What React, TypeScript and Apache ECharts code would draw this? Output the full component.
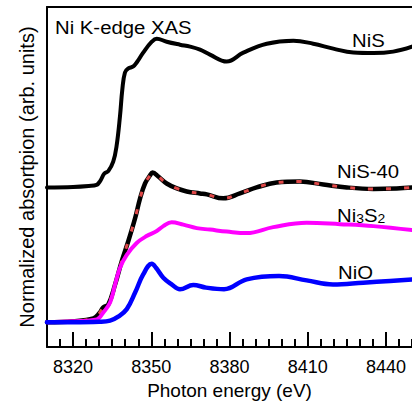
import React, { useEffect, useRef } from "react";
import * as echarts from "echarts";

// Photon energy grid (eV) and absorption (arb. units, vertically offset) for each sample
const nisEnergy = [8310, 8320, 8326, 8329, 8330.5, 8332, 8333.5, 8335.4, 8336.7, 8338, 8338.9, 8339.9, 8341.2, 8343.1, 8344.4, 8346.9, 8350.2, 8352.1, 8355.9, 8361, 8364.9, 8368.7, 8372.5, 8378.9, 8385.3, 8394.3, 8404.5, 8412.1, 8419.8, 8427.5, 8435.2, 8442.8, 8450];
const nisValues = [1.61, 1.615, 1.625, 1.635, 1.68, 1.75, 1.775, 1.87, 2.03, 2.33, 2.6, 2.77, 2.81, 2.83, 2.87, 2.97, 3.08, 3.11, 3.08, 3.05, 3.03, 3.0, 2.95, 2.88, 2.97, 3.06, 3.09, 3.06, 3.01, 2.97, 2.965, 2.98, 3.03];

const nis40Energy = [8310, 8320, 8327.8, 8330, 8331.6, 8333.5, 8336.1, 8338.7, 8341.2, 8343.8, 8345.7, 8347.6, 8349.5, 8350.5, 8352.7, 8355.9, 8359.8, 8363.6, 8368.7, 8371.3, 8377.6, 8384, 8390.4, 8398.1, 8407, 8416, 8425, 8435.2, 8444.1, 8450];
const nis40Values = [0.25, 0.26, 0.29, 0.34, 0.4, 0.43, 0.63, 0.87, 1.07, 1.3, 1.5, 1.65, 1.73, 1.76, 1.72, 1.65, 1.6, 1.57, 1.55, 1.54, 1.5, 1.55, 1.61, 1.66, 1.67, 1.64, 1.61, 1.595, 1.6, 1.61];

const ni3s2Energy = [8310, 8320, 8329.1, 8331.6, 8334.2, 8336.1, 8338, 8340.6, 8344.4, 8348.2, 8352.1, 8354.6, 8357.8, 8362.3, 8367.4, 8372.5, 8379, 8386.6, 8396.8, 8409.6, 8422.4, 8435.2, 8450];
const ni3s2Values = [0.25, 0.26, 0.28, 0.35, 0.45, 0.63, 0.8, 0.93, 1.05, 1.12, 1.17, 1.22, 1.26, 1.235, 1.2, 1.185, 1.165, 1.15, 1.21, 1.255, 1.24, 1.22, 1.18];

const nioEnergy = [8310, 8320, 8330, 8334.2, 8337.3, 8340.6, 8343.8, 8346.9, 8350.2, 8351.8, 8354.6, 8357.8, 8361, 8366.1, 8371, 8377.9, 8386.6, 8399, 8409.6, 8419.7, 8431.3, 8441.6, 8450];
const nioValues = [0.25, 0.25, 0.255, 0.267, 0.307, 0.383, 0.55, 0.733, 0.84, 0.8, 0.7, 0.633, 0.583, 0.627, 0.6, 0.583, 0.683, 0.717, 0.673, 0.632, 0.65, 0.667, 0.683];

const majorTicks = [8320, 8350, 8380, 8410, 8440];
const energyMin = 8310;
const energyMax = 8450;

const FONT = "'Liberation Sans', Arial, Helvetica, sans-serif";

const pairs = (xs: number[], ys: number[]) => xs.map((x, i) => [x, ys[i]]);

export default function App() {
  const ref = useRef<HTMLDivElement>(null);

  useEffect(() => {
    if (!ref.current) return;
    const chart = echarts.init(ref.current, null, { renderer: "svg" });

    const lineSeries = (name: string, data: number[][], color: string, width: number, extra: any = {}) => ({
      name,
      type: "line",
      data,
      showSymbol: false,
      smooth: 0.4,
      lineStyle: { color, width, cap: "round", join: "round", ...extra },
      emphasis: { disabled: true },
      z: 2,
    });

    const label = (text: string, x: number, y: number, rich?: any) => ({
      type: "text",
      x,
      y,
      scaleX: 1.07,
      style: {
        text,
        fill: "#000",
        fontSize: 19,
        fontFamily: FONT,
        verticalAlign: "middle",
        align: "left",
        ...(rich ? { rich } : {}),
      },
    });

    chart.setOption({
      animation: false,
      grid: { left: 47, right: 0, top: 7, bottom: 55, containLabel: false },
      xAxis: [
        {
          type: "value",
          min: energyMin,
          max: energyMax,
          interval: 5,
          position: "bottom",
          axisLine: { show: true, lineStyle: { color: "#000", width: 2 } },
          axisTick: { show: true, inside: true, length: 8, lineStyle: { color: "#000", width: 2 } },
          axisLabel: { show: false },
          splitLine: { show: false },
        },
        {
          type: "value",
          min: energyMin,
          max: energyMax,
          position: "bottom",
          axisLine: { show: false },
          axisTick: { show: true, inside: true, length: 15, customValues: majorTicks, lineStyle: { color: "#000", width: 2 } },
          axisLabel: {
            show: true,
            customValues: majorTicks,
            formatter: (v: number) => String(v),
            color: "#000",
            fontSize: 18,
            fontFamily: FONT,
            margin: 11,
          },
          splitLine: { show: false },
          name: "Photon energy (eV)",
          nameLocation: "middle",
          nameGap: 28,
          nameTextStyle: { color: "#000", fontSize: 19, fontFamily: FONT },
        },
        {
          type: "value",
          min: energyMin,
          max: energyMax,
          position: "top",
          axisLine: { show: true, lineStyle: { color: "#000", width: 2 } },
          axisTick: { show: false },
          axisLabel: { show: false },
          splitLine: { show: false },
        },
      ],
      yAxis: {
        type: "value",
        min: 0,
        max: 3.43,
        axisLine: { show: true, lineStyle: { color: "#000", width: 2 } },
        axisTick: { show: false },
        axisLabel: { show: false },
        splitLine: { show: false },
        name: "Normalized absortpion (arb. units)",
        nameLocation: "middle",
        nameGap: 10,
        nameTextStyle: { color: "#000", fontSize: 20, fontFamily: FONT },
      },
      series: [
        lineSeries("NiS", pairs(nisEnergy, nisValues), "#000", 4),
        lineSeries("NiS-40", pairs(nis40Energy, nis40Values), "#000", 4.5),
        lineSeries("NiS-40 fit", pairs(nis40Energy, nis40Values), "#e04848", 3, { type: [5, 13], cap: "butt" }),
        lineSeries("Ni3S2", pairs(ni3s2Energy, ni3s2Values), "#ff00ff", 4),
        lineSeries("NiO", pairs(nioEnergy, nioValues), "#0000ff", 4.5),
      ],
      graphic: [
        label("Ni K-edge XAS", 55, 27),
        label("NiS", 352, 40),
        label("NiS-40", 337, 171),
        label("{a|Ni}{s|3}{a|S}{s|2}", 337, 214, {
          a: { fontSize: 19, fontFamily: FONT, fill: "#000", verticalAlign: "bottom", lineHeight: 22 },
          s: { fontSize: 13, fontFamily: FONT, fill: "#000", verticalAlign: "bottom", lineHeight: 22 },
        }),
        label("NiO", 338, 272.5),
      ],
    });

    return () => chart.dispose();
  }, []);

  return (
    <div
      ref={ref}
      style={{ position: "fixed", left: 0, top: 0, width: 412, height: 405, background: "#fff" }}
    />
  );
}
